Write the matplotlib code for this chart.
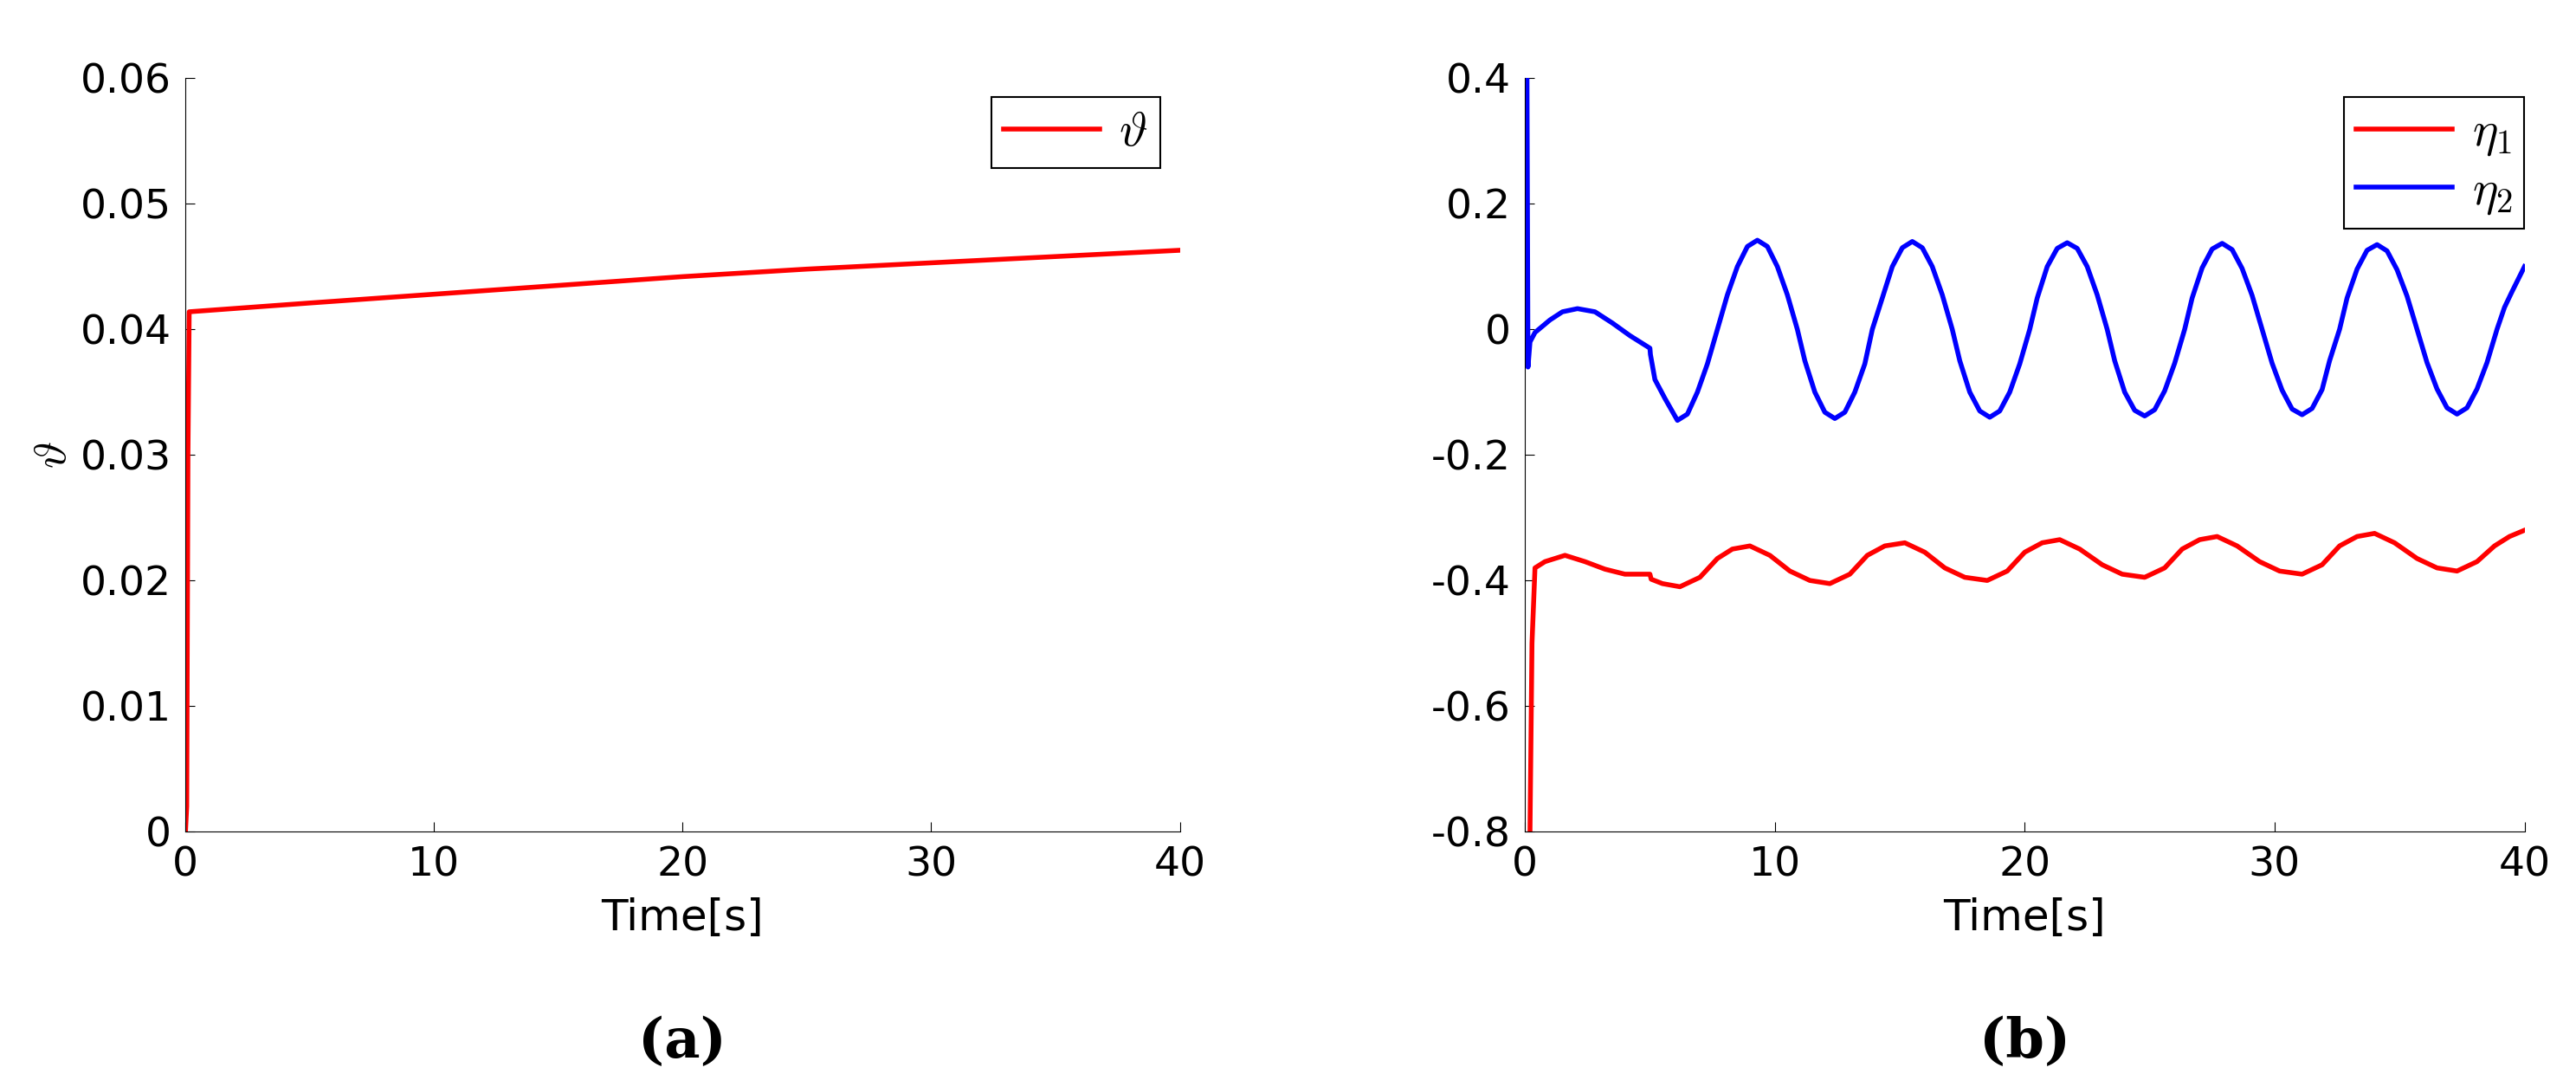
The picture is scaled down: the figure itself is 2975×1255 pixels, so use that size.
import matplotlib.pyplot as plt

plt.rcParams['font.family'] = ['DejaVu Sans']
plt.rcParams['mathtext.fontset'] = 'cm'

# panel (a)
t_a = [0.0, 0.05, 0.1, 0.15, 5, 10, 15, 20, 25, 30, 35, 40]
theta = [0.0, 0.002, 0.03, 0.0414, 0.0421, 0.0428, 0.0435, 0.0442, 0.0448, 0.0453, 0.0458, 0.0463]

# panel (b)
t_e2 = [0.0, 0.08, 0.12, 0.2, 0.4, 1.0, 1.5, 2.1, 2.8, 3.5, 4.2, 5.0, 5.02, 5.2, 5.6,
        6.1, 6.5, 6.9, 7.3, 7.7, 8.1, 8.5, 8.9, 9.3, 9.7, 10.1, 10.5, 10.9, 11.2, 11.6, 12.0,
        12.4, 12.8, 13.2, 13.6, 13.9, 14.3, 14.7, 15.1, 15.5, 15.9, 16.3, 16.7, 17.1, 17.4,
        17.8, 18.2, 18.6, 19.0, 19.4, 19.8, 20.2, 20.5, 20.9, 21.3, 21.7, 22.1, 22.5, 22.9,
        23.3, 23.6, 24.0, 24.4, 24.8, 25.2, 25.6, 26.0, 26.4, 26.7, 27.1, 27.5, 27.9, 28.3,
        28.7, 29.1, 29.5, 29.9, 30.3, 30.7, 31.1, 31.5, 31.9, 32.2, 32.6, 32.9, 33.3, 33.7,
        34.1, 34.5, 34.9, 35.3, 35.7, 36.1, 36.5, 36.9, 37.3, 37.7, 38.1, 38.5, 38.9, 39.2,
        39.5, 40.0]
eta2 = [0.4, 0.4, -0.06, -0.02, -0.005, 0.015, 0.028, 0.033, 0.028, 0.01, -0.01, -0.03, -0.04,
        -0.08, -0.11,
        -0.145, -0.135, -0.1, -0.055, 0.0, 0.055, 0.1, 0.132, 0.142, 0.132, 0.1, 0.055, 0.0,
        -0.05, -0.1, -0.132, -0.142, -0.132, -0.1, -0.055, 0.0, 0.05, 0.1, 0.13, 0.14, 0.13,
        0.1, 0.055, 0.0, -0.05, -0.1, -0.13, -0.14, -0.13, -0.1, -0.055, 0.0, 0.05, 0.1,
        0.129, 0.138, 0.129, 0.1, 0.055, 0.0, -0.05, -0.1, -0.129, -0.138, -0.128, -0.098,
        -0.054, 0.0, 0.05, 0.098, 0.128, 0.137, 0.127, 0.097, 0.054, 0.0, -0.054, -0.097,
        -0.127, -0.136, -0.126, -0.096, -0.05, 0.0, 0.05, 0.096, 0.126, 0.135, 0.125,
        0.095, 0.053, 0.0, -0.053, -0.095, -0.125, -0.135, -0.125, -0.095, -0.053, 0.0,
        0.035, 0.06, 0.1]
t_e1 = [0.2, 0.28, 0.4, 0.8, 1.6, 2.4, 3.2, 4.0, 5.0, 5.05, 5.5, 6.2, 7.0, 7.7, 8.3,
        9.0, 9.8, 10.6, 11.4, 12.2, 13.0, 13.7, 14.4, 15.2, 16.0, 16.8, 17.6, 18.5,
        19.3, 20.0, 20.7, 21.4, 22.2, 23.1, 23.9, 24.8, 25.6, 26.3, 27.0, 27.7,
        28.5, 29.4, 30.2, 31.1, 31.9, 32.6, 33.3, 34.0, 34.8, 35.7, 36.5, 37.3,
        38.1, 38.8, 39.4, 40.0]
eta1 = [-0.8, -0.5, -0.38, -0.37, -0.36, -0.37, -0.382, -0.39, -0.39, -0.398, -0.405, -0.41,
        -0.395, -0.365, -0.35, -0.345, -0.36, -0.385, -0.4, -0.405, -0.39, -0.36,
        -0.345, -0.34, -0.355, -0.38, -0.395, -0.4, -0.385, -0.355, -0.34, -0.335,
        -0.35, -0.375, -0.39, -0.395, -0.38, -0.35, -0.335, -0.33, -0.345, -0.37,
        -0.385, -0.39, -0.375, -0.345, -0.33, -0.325, -0.34, -0.365, -0.38, -0.385,
        -0.37, -0.345, -0.33, -0.32]

fig = plt.figure(figsize=(29.75, 12.55), dpi=100)
ax1 = fig.add_axes([0.072, 0.235, 0.386, 0.693])
ax2 = fig.add_axes([0.592, 0.235, 0.388, 0.693])

ax1.plot(t_a, theta, color='red', lw=4, label=r'$\vartheta$')
ax1.set_xlim(0, 40)
ax1.set_ylim(0, 0.06)
ax1.set_yticks([0, 0.01, 0.02, 0.03, 0.04, 0.05, 0.06])
ax1.set_yticklabels(['0', '0.01', '0.02', '0.03', '0.04', '0.05', '0.06'])
ax1.set_ylabel(r'$\vartheta$', fontsize=38)
leg_kw = dict(loc='upper right', fontsize=40, fancybox=False, edgecolor='black',
              handlelength=2.0, borderpad=0.25, handletextpad=0.4, labelspacing=0.2,
              borderaxespad=0, framealpha=1)
l1 = ax1.legend(bbox_to_anchor=(0.98, 0.975), **leg_kw)
l1.get_frame().set_linewidth(1.5)

ax2.plot(t_e1, eta1, color='red', lw=4, label=r'$\eta_1$')
ax2.plot(t_e2, eta2, color='blue', lw=4, label=r'$\eta_2$')
ax2.set_xlim(0, 40)
ax2.set_ylim(-0.8, 0.4)
ax2.set_yticks([-0.8, -0.6, -0.4, -0.2, 0, 0.2, 0.4])
ax2.set_yticklabels(['-0.8', '-0.6', '-0.4', '-0.2', '0', '0.2', '0.4'])
l2 = ax2.legend(bbox_to_anchor=(1.0, 0.975), **leg_kw)
l2.get_frame().set_linewidth(1.5)

for ax, cap in [(ax1, '(a)'), (ax2, '(b)')]:
    ax.set_xticks([0, 10, 20, 30, 40])
    ax.set_xlabel('Time[s]', fontsize=36, labelpad=10)
    ax.tick_params(labelsize=34, direction='in', length=8, pad=12,
                   top=False, right=False)
    for s in ['top', 'right']:
        ax.spines[s].set_visible(False)
    ax.text(0.5, -0.28, cap, transform=ax.transAxes, ha='center', va='center',
            fontsize=46, family='DejaVu Serif', fontweight='bold')

fig.savefig('out.png')
